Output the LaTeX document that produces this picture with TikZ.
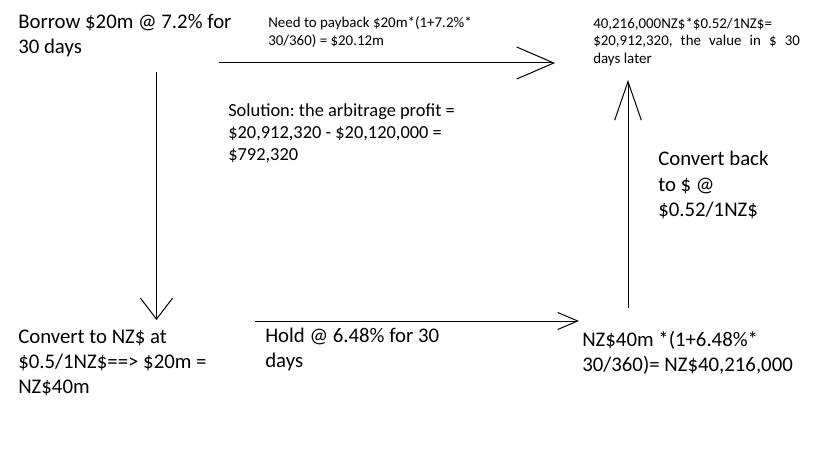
\documentclass[tikz,border=0pt]{standalone}
\usepackage{fontspec}
\setmainfont{Carlito}
\usetikzlibrary{arrows.meta}
\frenchspacing
\begin{document}
\begin{tikzpicture}[x=0.75pt, y=-0.75pt,
    note/.style={anchor=base west, inner sep=0pt, text width=260pt, align=flush left},
    big/.style={note, font=\fontsize{15.6}{18.8}\selectfont},
    mid/.style={note, font=\fontsize{13.8}{16.5}\selectfont},
    small/.style={note, font=\fontsize{11.2}{13.1}\selectfont},
    flow/.style={line width=0.75pt}]
\useasboundingbox (0,0) rectangle (819,460);
\fill[white] (0,0) rectangle (819,460);
\node[big] (borrow) at (18,28.5) {Borrow \$20m @ 7.2\% for\\30 days};
\node[small] (payback) at (268,28) {Need to payback \$20m*(1+7.2\%*\\30/360) = \$20.12m};
\node[small] (value) at (593,28.5) {40,216,000NZ\$*\$0.52/1NZ\$=\\\makebox[155pt][s]{\$20,912,320, the value in \$ 30}\\days later};
\node[mid] (profit) at (228,117) {Solution: the arbitrage profit =\\\$20,912,320 - \$20,120,000 =\\\$792,320};
\node[big] (back) at (658,166) {Convert back\\to \$ @\\\$0.52/1NZ\$};
\node[big] (convert) at (18,343) {Convert to NZ\$ at\\\$0.5/1NZ\$==> \$20m =\\NZ\$40m};
\node[big] (hold) at (265,342) {Hold @ 6.48\% for 30\\days};
\node[big] (grown) at (582,346) {NZ\$40m *(1+6.48\%*\\30/360)= NZ\$40,216,000};
\coordinate (b1) at (219,63);
\coordinate (b2) at (555,63);
\coordinate (c1) at (156.5,72);
\coordinate (c2) at (156.5,320);
\coordinate (h1) at (255,321);
\coordinate (h2) at (579,321);
\coordinate (r1) at (628,308);
\coordinate (r2) at (628,80);
\draw[flow, -{Straight Barb[length=27.75pt, width=24pt]}] (b1) -- (b2);
\draw[flow, -{Straight Barb[length=15.75pt, width=24pt]}] (c1) -- (c2);
\draw[flow, -{Straight Barb[length=15pt, width=12.75pt]}] (h1) -- (h2);
\draw[flow, -{Straight Barb[length=29pt, width=20pt]}] (r1) -- (r2);
\end{tikzpicture}
\end{document}
